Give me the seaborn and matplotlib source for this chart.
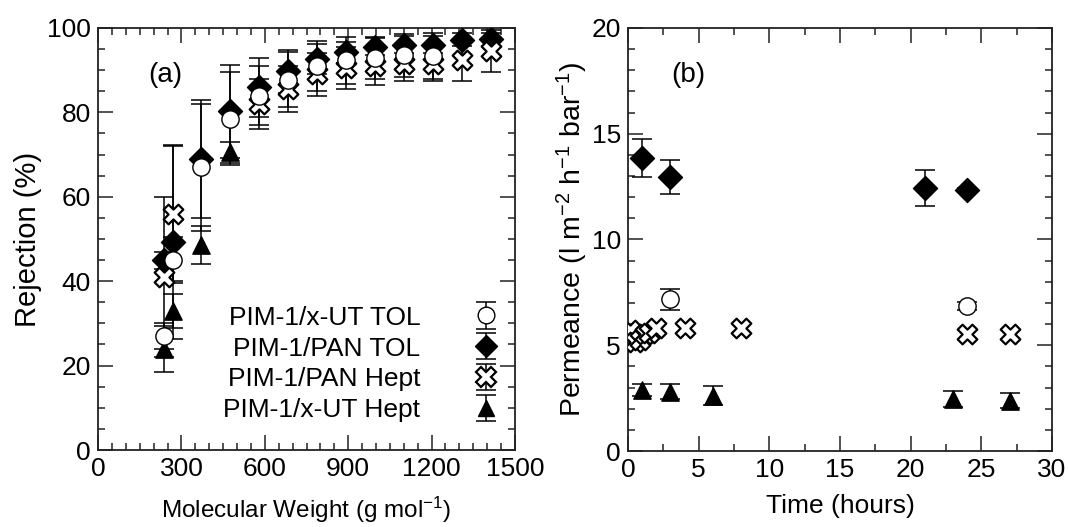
import numpy as np
import pandas as pd
import matplotlib
matplotlib.use("Agg")
import matplotlib.pyplot as plt
import seaborn as sns
from matplotlib.lines import Line2D
from matplotlib.collections import LineCollection
from matplotlib.container import ErrorbarContainer
from matplotlib.ticker import MultipleLocator

## dados - painel (a): rejeição x massa molar
mw_circ = [236, 268, 372, 476, 580, 684, 788, 892, 996, 1100, 1204]
rej_circ = [27, 45, 67, 78.5, 84, 87.7, 91, 92.3, 92.8, 93.5, 93.4]
err_circ = [3, 5.5, 15, 11, 7, 6.5, 6, 5.5, 5, 5, 5.5]

mw_diam = [236, 268, 372, 476, 580, 684, 788, 892, 996, 1100, 1204, 1308, 1412]
rej_diam = [45, 49.3, 69, 80.3, 86, 89.7, 92.6, 94.2, 95.6, 96, 96, 97.2, 97.3]
err_diam = [2, 23, 14, 11, 7, 5, 3.5, 2.5, 2, 2, 2, 1.5, 1.5]

mw_cross = [236, 268, 580, 684, 788, 892, 996, 1100, 1204, 1308, 1412]
rej_cross = [41, 56, 82, 85.5, 89, 90.5, 91, 91.5, 91.5, 92.4, 94.5]
err_cross = [19, 16, 6, 5.5, 5, 5, 4.5, 4, 4, 5, 5]

mw_tri = [236, 268, 372, 476]
rej_tri = [24, 33, 48.5, 70.5]
err_tri = [5.5, 4, 4.5, 2.5]

## dados - painel (b): permeância x tempo
t_circ = [3, 24]
perm_circ = [7.17, 6.86]
perr_circ = [0.5, 0.2]

t_diam = [1, 3, 21, 24]
perm_diam = [13.85, 12.95, 12.45, 12.35]
perr_diam = [0.9, 0.8, 0.85, 0.1]

t_cross = [0.17, 0.5, 0.83, 1.17, 1.5, 2.0, 4, 8, 24, 27]
perm_cross = [5.7, 5.15, 5.25, 5.55, 5.6, 5.8, 5.8, 5.8, 5.53, 5.53]

t_tri = [1, 3, 6, 23, 27]
perm_tri = [2.88, 2.8, 2.62, 2.46, 2.38]
perr_tri = [0.3, 0.35, 0.45, 0.37, 0.35]

nomes = ["PIM-1/x-UT TOL", "PIM-1/PAN TOL", "PIM-1/PAN Hept", "PIM-1/x-UT Hept"]

sns.set_theme(style="ticks")
plt.rcParams['font.family'] = ['Liberation Sans', 'DejaVu Sans']
plt.rcParams['mathtext.fontset'] = 'custom'
plt.rcParams['mathtext.rm'] = 'Liberation Sans'
plt.rcParams['mathtext.it'] = 'Liberation Sans'
plt.rcParams['text.color'] = 'black'
plt.rcParams['axes.labelcolor'] = 'black'
plt.rcParams['xtick.labelcolor'] = 'black'
plt.rcParams['ytick.labelcolor'] = 'black'

estilos = {
    nomes[0]: dict(marker="o", s=155, facecolor="white", edgecolor="black", linewidth=1.0),
    nomes[1]: dict(marker="D", s=150, facecolor="black", edgecolor="black", linewidth=1.0),
    nomes[2]: dict(marker="X", s=200, facecolor="white", edgecolor="black", linewidth=1.6),
    nomes[3]: dict(marker="^", s=155, facecolor="black", edgecolor="black", linewidth=1.0),
}
ordem_z = {nomes[3]: 3, nomes[1]: 4, nomes[2]: 5, nomes[0]: 6}

fig = plt.figure(figsize=(10.68, 5.27), dpi=100)
ax1 = fig.add_axes([0.0918, 0.1461, 0.3904, 0.8008])
ax2 = fig.add_axes([0.588, 0.1442, 0.397, 0.8027])

def desenha(ax, x, y, err, nome):
    if err is not None:
        ax.errorbar(x, y, yerr=err, fmt="none", ecolor="black",
                    elinewidth=1.1, capsize=7, capthick=1.1, zorder=2)
    df = pd.DataFrame({"x": x, "y": y})
    st = estilos[nome]
    sns.scatterplot(data=df, x="x", y="y", ax=ax, marker=st["marker"], s=st["s"],
                    color=st["facecolor"], edgecolor=st["edgecolor"],
                    linewidth=st["linewidth"], zorder=ordem_z[nome], legend=False)

desenha(ax1, mw_tri, rej_tri, err_tri, nomes[3])
desenha(ax1, mw_diam, rej_diam, err_diam, nomes[1])
desenha(ax1, mw_cross, rej_cross, err_cross, nomes[2])
desenha(ax1, mw_circ, rej_circ, err_circ, nomes[0])

desenha(ax2, t_tri, perm_tri, perr_tri, nomes[3])
desenha(ax2, t_diam, perm_diam, perr_diam, nomes[1])
desenha(ax2, t_cross, perm_cross, None, nomes[2])
desenha(ax2, t_circ, perm_circ, perr_circ, nomes[0])

## legenda com barras de erro
tam = {"o": 12, "D": 11, "X": 14, "^": 12}
handles = []
for nome in nomes:
    st = estilos[nome]
    proxy = Line2D([], [], ls="none", marker=st["marker"], markersize=tam[st["marker"]],
                   markerfacecolor=st["facecolor"], markeredgecolor="black",
                   markeredgewidth=st["linewidth"], color="black")
    caps = (Line2D([], [], ls="none", marker="_", markersize=14, color="black", markeredgewidth=1.1),)
    bars = (LineCollection([], colors="black", linewidths=1.1),)
    handles.append(ErrorbarContainer((proxy, caps, bars), has_yerr=True, label=nome))

ax1.legend(handles=handles, labels=nomes, loc="lower right", bbox_to_anchor=(1.02, 0.022),
           frameon=False, markerfirst=False, fontsize=19, handlelength=1.4,
           handletextpad=1.8, labelspacing=0.26, borderpad=0.2)

ax1.set_xlim(0, 1500)
ax1.set_ylim(0, 100)
ax1.xaxis.set_major_locator(MultipleLocator(300))
ax1.xaxis.set_minor_locator(MultipleLocator(50))
ax1.yaxis.set_major_locator(MultipleLocator(20))
ax1.yaxis.set_minor_locator(MultipleLocator(5))
ax1.set_xlabel("Molecular Weight (g mol$^{-1}$)", fontsize=17.5, labelpad=10)
ax1.set_ylabel("Rejection (%)", fontsize=21, labelpad=4)
ax1.text(0.12, 0.889, "(a)", transform=ax1.transAxes, fontsize=20, va="center", ha="left")

ax2.set_xlim(0, 30)
ax2.set_ylim(0, 20)
ax2.xaxis.set_major_locator(MultipleLocator(5))
ax2.xaxis.set_minor_locator(MultipleLocator(2.5))
ax2.yaxis.set_major_locator(MultipleLocator(5))
ax2.yaxis.set_minor_locator(MultipleLocator(1))
ax2.set_xlabel("Time (hours)", fontsize=19, labelpad=9)
ax2.set_ylabel("Permeance (l m$^{-2}$ h$^{-1}$ bar$^{-1}$)", fontsize=20.5, labelpad=1)
ax2.text(0.102, 0.889, "(b)", transform=ax2.transAxes, fontsize=20, va="center", ha="left")

for ax in (ax1, ax2):
    for sp in ax.spines.values():
        sp.set_linewidth(1.3)
        sp.set_color("#222222")
        sp.set_visible(True)
    ax.tick_params(which="both", direction="in", top=True, right=True,
                   labelsize=19, color="#222222", width=1.1, pad=5)
    ax.tick_params(which="major", length=11)
    ax.tick_params(which="minor", length=5)

fig.savefig("out.png", dpi=100)
